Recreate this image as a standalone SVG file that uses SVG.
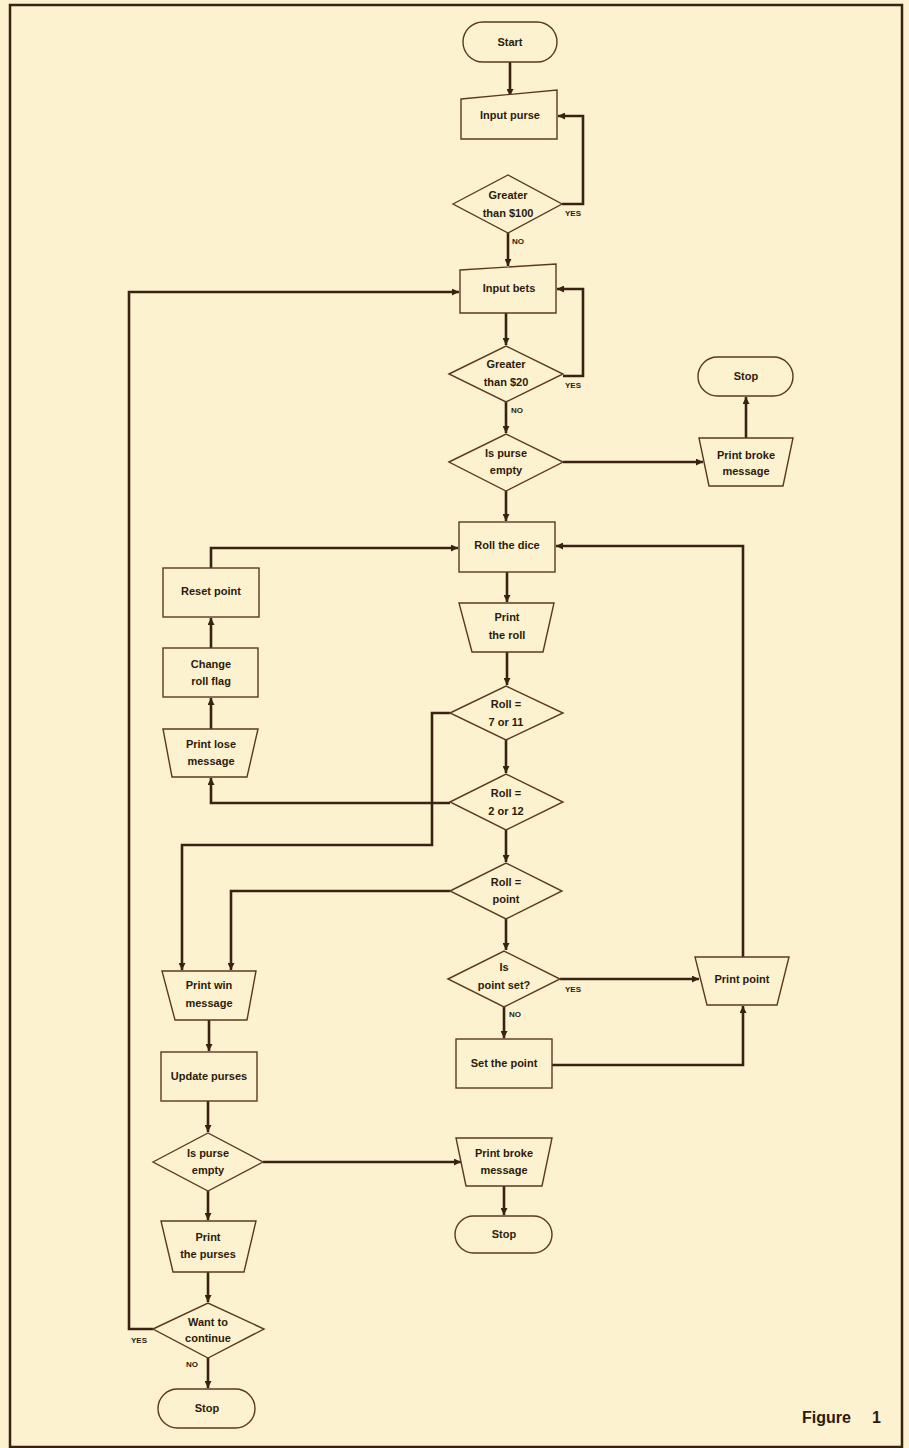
<svg xmlns="http://www.w3.org/2000/svg" width="909" height="1448" viewBox="0 0 909 1448">
<defs>
<marker id="ah" markerWidth="8" markerHeight="7" refX="7" refY="3.5" orient="auto" markerUnits="userSpaceOnUse">
<path d="M0,0 L7,3.5 L0,7 z" fill="#3a2212"/>
</marker>
<style>
.bg{fill:#fcf2cf}
.frame{fill:none;stroke:#3a2212;stroke-width:2.5}
.n{fill:#fcf2cf;stroke:#5a3a1e;stroke-width:1.4}
.c{fill:none;stroke:#3a2212;stroke-width:2.6;stroke-linejoin:miter}
.a{marker-end:url(#ah)}
.t{font-family:"Liberation Sans",Arial,sans-serif;font-weight:bold;font-size:11px;fill:#2e1a0c;text-anchor:middle}
.lb{font-family:"Liberation Sans",Arial,sans-serif;font-weight:bold;font-size:8px;fill:#2e1a0c}
.fig{font-family:"Liberation Sans",Arial,sans-serif;font-weight:bold;font-size:16px;fill:#2e1a0c}
</style>
</defs>
<rect class="bg" x="0" y="0" width="909" height="1448"/>
<rect class="frame" x="10" y="5" width="892" height="1442"/>

<g id="connectors">
<path class="c a" d="M510,62 V96"/>
<path class="c a" d="M562,204 H583 V116 H558"/>
<path class="c a" d="M508,233 V266"/>
<path class="c a" d="M563,376 H583 V289 H557"/>
<path class="c a" d="M506,313 V345"/>
<path class="c a" d="M506,402 V433"/>
<path class="c a" d="M563,462 H703"/>
<path class="c a" d="M746,438 V397"/>
<path class="c a" d="M506,491 V521"/>
<path class="c a" d="M211,568 V548 H458"/>
<path class="c a" d="M743,957 V546 H556"/>
<path class="c a" d="M211,648 V618"/>
<path class="c a" d="M211,729 V698"/>
<path class="c a" d="M450,803 H211 V778"/>
<path class="c a" d="M507,572 V602"/>
<path class="c a" d="M507,652 V685"/>
<path class="c a" d="M506,740 V773"/>
<path class="c a" d="M506,830 V862"/>
<path class="c a" d="M506,919 V950"/>
<path class="c a" d="M450,713 H432 V845 H182 V970"/>
<path class="c a" d="M450,891 H231 V970"/>
<path class="c a" d="M560,979 H699"/>
<path class="c a" d="M504,1007 V1038"/>
<path class="c a" d="M552,1065 H743 V1006"/>
<path class="c a" d="M209,1020 V1051"/>
<path class="c a" d="M208,1101 V1132"/>
<path class="c a" d="M263,1162 H461"/>
<path class="c a" d="M504,1186 V1215"/>
<path class="c a" d="M208,1191 V1220"/>
<path class="c a" d="M208,1272 V1302"/>
<path class="c a" d="M153,1329 H129 V292 H459"/>
<path class="c a" d="M208,1358 V1388"/>
</g>

<g id="start">
<rect class="n" x="463" y="22" width="94" height="40" rx="20"/>
<text class="t" x="510" y="46">Start</text>
</g>
<g id="input-purse">
<path class="n" d="M461,99 L557,90 L557,139 L461,139 Z"/>
<text class="t" x="510" y="119">Input purse</text>
</g>
<g id="greater-100">
<path class="n" d="M453,204 L508,175 L562,204 L508,233 Z"/>
<text class="t" x="508" y="199">Greater</text>
<text class="t" x="508" y="217">than $100</text>
<text class="lb" x="565" y="216">YES</text>
<text class="lb" x="512" y="244">NO</text>
</g>
<g id="input-bets">
<path class="n" d="M460,270 L556,264 L556,313 L460,313 Z"/>
<text class="t" x="509" y="292">Input bets</text>
</g>
<g id="greater-20">
<path class="n" d="M449,374 L506,346 L563,374 L506,402 Z"/>
<text class="t" x="506" y="368">Greater</text>
<text class="t" x="506" y="386">than $20</text>
<text class="lb" x="565" y="388">YES</text>
<text class="lb" x="511" y="413">NO</text>
</g>
<g id="purse-empty-1">
<path class="n" d="M449,462 L506,434 L563,462 L506,491 Z"/>
<text class="t" x="506" y="457">Is purse</text>
<text class="t" x="506" y="474">empty</text>
</g>
<g id="print-broke-1">
<path class="n" d="M699,438 L793,438 L783,486 L709,486 Z"/>
<text class="t" x="746" y="459">Print broke</text>
<text class="t" x="746" y="475">message</text>
</g>
<g id="stop-1">
<rect class="n" x="698" y="357" width="95" height="39" rx="19.5"/>
<text class="t" x="746" y="380">Stop</text>
</g>
<g id="roll-dice">
<rect class="n" x="459" y="522" width="96" height="50"/>
<text class="t" x="507" y="549">Roll the dice</text>
</g>
<g id="reset-point">
<rect class="n" x="163" y="568" width="96" height="49"/>
<text class="t" x="211" y="595">Reset point</text>
</g>
<g id="change-flag">
<rect class="n" x="163" y="648" width="95" height="49"/>
<text class="t" x="211" y="668">Change</text>
<text class="t" x="211" y="685">roll flag</text>
</g>
<g id="print-lose">
<path class="n" d="M163,729 L258,729 L247,777 L172,777 Z"/>
<text class="t" x="211" y="748">Print lose</text>
<text class="t" x="211" y="765">message</text>
</g>
<g id="print-roll">
<path class="n" d="M459,603 L554,603 L543,652 L472,652 Z"/>
<text class="t" x="507" y="621">Print</text>
<text class="t" x="507" y="639">the roll</text>
</g>
<g id="roll-7-11">
<path class="n" d="M450,713 L506,686 L563,713 L506,740 Z"/>
<text class="t" x="506" y="708">Roll =</text>
<text class="t" x="506" y="726">7 or 11</text>
</g>
<g id="roll-2-12">
<path class="n" d="M450,802 L506,774 L563,802 L506,830 Z"/>
<text class="t" x="506" y="797">Roll =</text>
<text class="t" x="506" y="815">2 or 12</text>
</g>
<g id="roll-point">
<path class="n" d="M450,891 L506,863 L562,891 L506,919 Z"/>
<text class="t" x="506" y="886">Roll =</text>
<text class="t" x="506" y="903">point</text>
</g>
<g id="point-set">
<path class="n" d="M448,979 L504,951 L560,979 L504,1007 Z"/>
<text class="t" x="504" y="971">Is</text>
<text class="t" x="504" y="989">point set?</text>
<text class="lb" x="565" y="992">YES</text>
<text class="lb" x="509" y="1017">NO</text>
</g>
<g id="print-point">
<path class="n" d="M695,957 L789,957 L777,1005 L707,1005 Z"/>
<text class="t" x="742" y="983">Print point</text>
</g>
<g id="set-point">
<rect class="n" x="456" y="1039" width="96" height="49"/>
<text class="t" x="504" y="1067">Set the point</text>
</g>
<g id="print-win">
<path class="n" d="M162,971 L256,971 L247,1020 L175,1020 Z"/>
<text class="t" x="209" y="989">Print win</text>
<text class="t" x="209" y="1007">message</text>
</g>
<g id="update-purses">
<rect class="n" x="161" y="1052" width="96" height="49"/>
<text class="t" x="209" y="1080">Update purses</text>
</g>
<g id="purse-empty-2">
<path class="n" d="M153,1162 L208,1133 L263,1162 L208,1191 Z"/>
<text class="t" x="208" y="1157">Is purse</text>
<text class="t" x="208" y="1174">empty</text>
</g>
<g id="print-broke-2">
<path class="n" d="M456,1138 L552,1138 L542,1186 L466,1186 Z"/>
<text class="t" x="504" y="1157">Print broke</text>
<text class="t" x="504" y="1174">message</text>
</g>
<g id="stop-2">
<rect class="n" x="455" y="1216" width="97" height="37" rx="18.5"/>
<text class="t" x="504" y="1238">Stop</text>
</g>
<g id="print-purses">
<path class="n" d="M161,1221 L256,1221 L244,1272 L173,1272 Z"/>
<text class="t" x="208" y="1241">Print</text>
<text class="t" x="208" y="1258">the purses</text>
</g>
<g id="want-continue">
<path class="n" d="M153,1329 L208,1303 L264,1329 L208,1358 Z"/>
<text class="t" x="208" y="1326">Want to</text>
<text class="t" x="208" y="1342">continue</text>
<text class="lb" x="131" y="1343">YES</text>
<text class="lb" x="186" y="1367">NO</text>
</g>
<g id="stop-3">
<rect class="n" x="158" y="1389" width="97" height="39" rx="19.5"/>
<text class="t" x="207" y="1412">Stop</text>
</g>
<text class="fig" x="802" y="1423">Figure <tspan x="872">1</tspan></text>
</svg>
